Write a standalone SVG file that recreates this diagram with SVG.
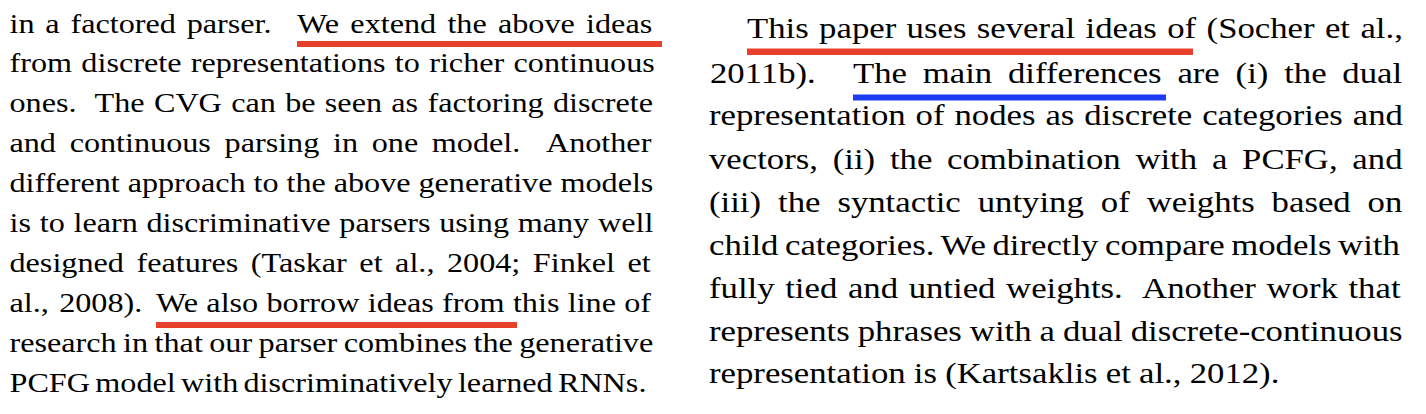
<svg xmlns="http://www.w3.org/2000/svg" width="1426" height="414" viewBox="0 0 1426 414">
  <style>
    .t { font-family: "Liberation Serif", "Times New Roman", serif; fill: #000; }
    .l { font-size: 28px; }
    .r { font-size: 30.2px; }
    .red { fill: #E8412B; }
    .blue { fill: #1B3CF2; }
  </style>
  <rect x="0" y="0" width="1426" height="414" fill="#fff"/>
  <g id="left-column" class="t l">
    <text transform="matrix(1.15 0 0 1 9.5 32.5)" x="0" y="0" word-spacing="2.4">in a factored parser.</text>
    <text transform="matrix(1.15 0 0 1 297 32.5)" x="0" y="0" word-spacing="2.8">We extend the above ideas</text>
    <text transform="matrix(1.15 0 0 1 9.5 72.4)" x="0" y="0" word-spacing="1.1">from discrete representations to richer continuous</text>
    <text transform="matrix(1.15 0 0 1 9.5 112.3)" x="0" y="0" word-spacing="1.1">ones.&#160; The CVG can be seen as factoring discrete</text>
    <text transform="matrix(1.15 0 0 1 9.5 152.2)" x="0" y="0" word-spacing="4.9">and continuous parsing in one model.&#160; Another</text>
    <text transform="matrix(1.15 0 0 1 9.5 192.1)" x="0" y="0" word-spacing="-0.1">different approach to the above generative models</text>
    <text transform="matrix(1.15 0 0 1 9.5 232)" x="0" y="0" word-spacing="0.6">is to learn discriminative parsers using many well</text>
    <text transform="matrix(1.15 0 0 1 9.5 271.9)" x="0" y="0" word-spacing="3.9">designed features (Taskar et al., 2004; Finkel et</text>
    <text transform="matrix(1.15 0 0 1 9.5 311.8)" x="0" y="0" word-spacing="2">al., 2008).</text>
    <text transform="matrix(1.15 0 0 1 156 311.8)" x="0" y="0" word-spacing="0.2">We also borrow ideas from this line of</text>
    <text transform="matrix(1.15 0 0 1 9.5 351.7)" x="0" y="0" word-spacing="-1.4">research in that our parser combines the generative</text>
    <text transform="matrix(1.15 0 0 1 9.5 391.6)" x="0" y="0" word-spacing="-2.4">PCFG model with discriminatively learned RNNs.</text>
  </g>
  <g id="right-column" class="t r">
    <text transform="matrix(1.15 0 0 1 747 38)" x="0" y="0" word-spacing="1.5">This paper uses several ideas of (Socher et al.,</text>
    <text transform="matrix(1.15 0 0 1 710 83)" x="0" y="0">2011b).</text>
    <text transform="matrix(1.15 0 0 1 853 83)" x="0" y="0" word-spacing="6.2">The main differences are (i) the dual</text>
    <text transform="matrix(1.15 0 0 1 709 125)" x="0" y="0" word-spacing="1.1">representation of nodes as discrete categories and</text>
    <text transform="matrix(1.15 0 0 1 709 168.5)" x="0" y="0" word-spacing="5.3">vectors, (ii) the combination with a PCFG, and</text>
    <text transform="matrix(1.15 0 0 1 709 211.5)" x="0" y="0" word-spacing="7.2">(iii) the syntactic untying of weights based on</text>
    <text transform="matrix(1.15 0 0 1 709 254.5)" x="0" y="0" word-spacing="-1.8">child categories. We directly compare models with</text>
    <text transform="matrix(1.15 0 0 1 709 297.5)" x="0" y="0" word-spacing="1.7">fully tied and untied weights.&#160; Another work that</text>
    <text transform="matrix(1.15 0 0 1 709 340.5)" x="0" y="0" word-spacing="-0.6">represents phrases with a dual discrete-continuous</text>
    <text transform="matrix(1.15 0 0 1 709 383)" x="0" y="0" word-spacing="-0.4">representation is (Kartsaklis et al., 2012).</text>
  </g>
  <g id="underlines">
    <rect class="red" x="297" y="41" width="365" height="6"/>
    <rect class="red" x="156" y="322" width="361" height="6"/>
    <rect class="red" x="747" y="48.5" width="446" height="6.5"/>
    <rect class="blue" x="853" y="94.5" width="313" height="6"/>
  </g>
</svg>
